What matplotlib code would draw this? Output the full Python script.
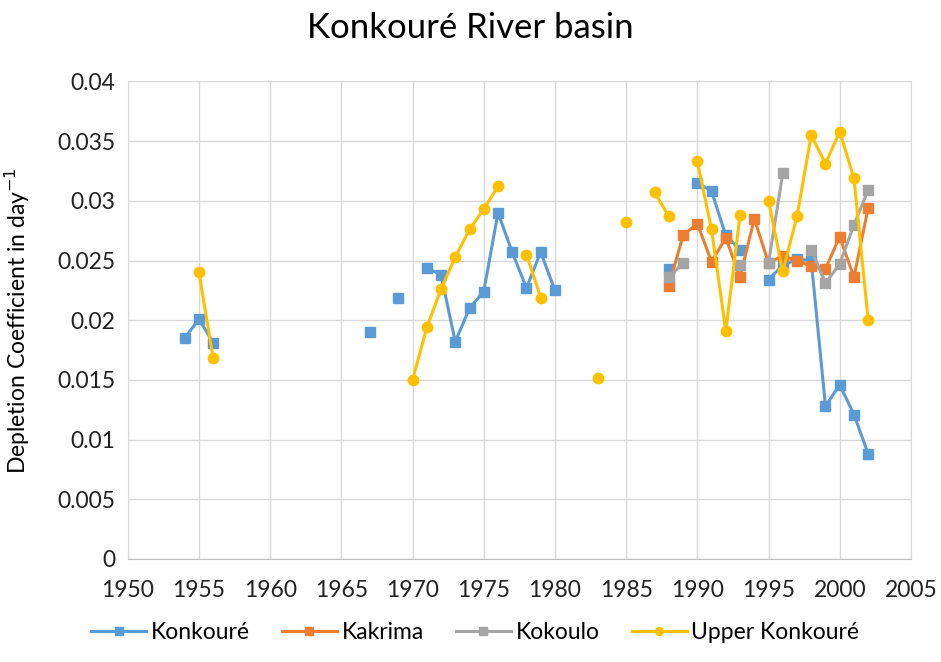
import numpy as np
import matplotlib.pyplot as plt

nan = np.nan

# Konkouré (gaps kept as nan so the line breaks like in the source chart)
konkoure_years = [1954, 1955, 1956, 1957, 1967, 1968, 1969, 1970, 1971, 1972, 1973, 1974,
                  1975, 1976, 1977, 1978, 1979, 1980, 1981, 1988, 1989, 1990, 1991, 1992,
                  1993, 1994, 1995, 1996, 1997, 1998, 1999, 2000, 2001, 2002]
konkoure_vals = [0.0185, 0.0201, 0.0181, nan, 0.0190, nan, 0.0219, nan, 0.0244, 0.0238, 0.0182, 0.0210,
                 0.0224, 0.0290, 0.0257, 0.0227, 0.0257, 0.0225, nan, 0.0243, nan, 0.0315, 0.0308, 0.0271,
                 0.0259, nan, 0.0234, 0.0246, 0.0251, 0.0250, 0.0128, 0.0146, 0.0121, 0.0088]

kakrima_years = list(range(1988, 2003))
kakrima_vals = [0.0229, 0.0271, 0.0281, 0.0249, 0.0269, 0.0236, 0.0285, 0.0248,
                0.0254, 0.0250, 0.0245, 0.0243, 0.0270, 0.0236, 0.0294]

kokoulo_years = [1988, 1989, 1990, 1993, 1994, 1995, 1996, 1997, 1998, 1999, 2000, 2001, 2002]
kokoulo_vals = [0.0236, 0.0248, nan, 0.0246, nan, 0.0248, 0.0323, nan, 0.0259, 0.0231, 0.0247, 0.0280, 0.0309]

upper_years = [1955, 1956, 1957, 1970, 1971, 1972, 1973, 1974, 1975, 1976, 1977, 1978, 1979, 1980,
               1983, 1984, 1985, 1986, 1987, 1988, 1989, 1990, 1991, 1992, 1993, 1994, 1995, 1996,
               1997, 1998, 1999, 2000, 2001, 2002]
upper_vals = [0.0240, 0.0168, nan, 0.0150, 0.0194, 0.0226, 0.0253, 0.0276, 0.0293, 0.0312, nan, 0.0255, 0.0219, nan,
              0.0152, nan, 0.0282, nan, 0.0307, 0.0287, nan, 0.0333, 0.0276, 0.0191, 0.0288, nan, 0.0300, 0.0241,
              0.0287, 0.0355, 0.0331, 0.0358, 0.0319, 0.0200]

x_ticks = list(range(1950, 2006, 5))
y_ticks = [0, 0.005, 0.01, 0.015, 0.02, 0.025, 0.03, 0.035, 0.04]
y_tick_labels = ["0", "0.005", "0.01", "0.015", "0.02", "0.025", "0.03", "0.035", "0.04"]

plt.rcParams['font.family'] = ['Lato', 'DejaVu Sans']

fig = plt.figure(figsize=(9.41, 6.62), dpi=100)
ax = fig.add_axes([0.1358, 0.1556, 0.8322, 0.7214])

ax.plot(konkoure_years, konkoure_vals, color='#5B9BD5', lw=2.2, marker='s', ms=7, label='Konkouré')
ax.plot(kakrima_years, kakrima_vals, color='#ED7D31', lw=2.2, marker='s', ms=7, label='Kakrima')
ax.plot(kokoulo_years, kokoulo_vals, color='#A5A5A5', lw=2.2, marker='s', ms=7, label='Kokoulo')
ax.plot(upper_years, upper_vals, color='#FFC000', lw=2.2, marker='o', ms=7.5, label='Upper Konkouré')

ax.set_xlim(1950, 2005)
ax.set_ylim(0, 0.04)
ax.set_xticks(x_ticks)
ax.set_yticks(y_ticks)
ax.set_yticklabels(y_tick_labels)
ax.tick_params(length=0, labelsize=16.5, colors='#222222')
ax.tick_params(axis='x', pad=15)
ax.tick_params(axis='y', pad=9)

ax.grid(True, color='#D9D9D9', lw=1)
ax.set_axisbelow(True)
for side in ['top', 'left', 'right']:
    ax.spines[side].set_color('#D9D9D9')
ax.spines['bottom'].set_color('#BFBFBF')

ax.set_ylabel('Depletion Coefficient in day$^{-1}$', fontsize=16.5)
ax.yaxis.set_label_coords(-0.122, 0.5)

fig.text(0.5, 0.957, 'Konkouré River basin', ha='center', va='center', fontsize=25)

fig.legend(loc='center', bbox_to_anchor=(0.505, 0.044), ncol=4, frameon=False,
           fontsize=16.5, handlelength=2.4, columnspacing=1.4, handletextpad=0.2,
           markerscale=0.75)

fig.savefig('out.png', dpi=100)
